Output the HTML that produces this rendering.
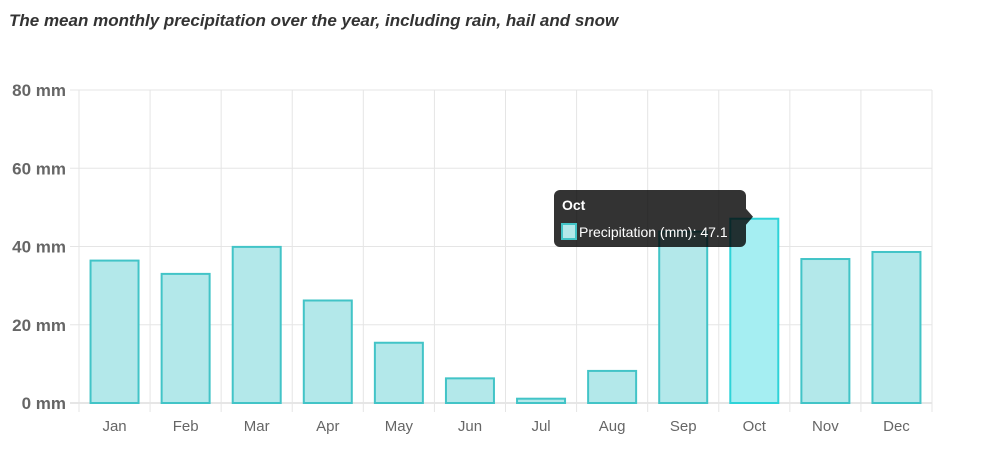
<!DOCTYPE html>
<html><head><meta charset="utf-8"><style>
body{margin:0;background:#fff;width:1007px;height:465px;overflow:hidden;font-family:"Liberation Sans",sans-serif}
#title{position:absolute;left:9px;top:11px;font-size:17px;font-weight:bold;font-style:italic;color:#333}
</style></head><body>
<div id="title">The mean monthly precipitation over the year, including rain, hail and snow</div>
<svg id="c" width="1007" height="465" style="position:absolute;left:0;top:0"></svg>
<script>
const categories=["Jan","Feb","Mar","Apr","May","Jun","Jul","Aug","Sep","Oct","Nov","Dec"];
const precipitation=[36.4,33.0,39.9,26.2,15.4,6.3,1.1,8.2,43.8,47.1,36.8,38.6];
const yTicks=[0,20,40,60,80];
const NS="http://www.w3.org/2000/svg";
const svg=document.getElementById('c');
const L=79,R=932,T=90,B=403,yMax=80;
const bw=(R-L)/categories.length;
const y=v=>B-(v/yMax)*(B-T);
const x=i=>L+i*bw;
function mk(t,a){const e=document.createElementNS(NS,t);for(const k in a)e.setAttribute(k,a[k]);svg.appendChild(e);return e;}
yTicks.forEach(t=>{
 const g=mk('line',{x1:70,x2:R,y1:y(t),y2:y(t),stroke:t===0?'#ccc':'#e5e5e5','stroke-width':1});
 
 
 const tx=mk('text',{x:66,y:y(t)+6,'text-anchor':'end','font-size':17,'font-weight':'bold',fill:'#666'});
 tx.textContent=t+' mm';
 
 
});
for(let i=0;i<=categories.length;i++){
 const g=mk('line',{x1:x(i),x2:x(i),y1:T,y2:B+9,stroke:'#e5e5e5','stroke-width':1});
 
 
}
categories.forEach((c,i)=>{
 const v=precipitation[i],cx=x(i)+bw/2,w=48;
 const hl=i===9;
 const r=mk('rect',{x:cx-w/2,y:y(v),width:w,height:B-y(v),fill:hl?'#a5eef2':'#b3e8ea',stroke:hl?'#2ed3d8':'#42c4c7','stroke-width':2});
 
 
 const t=mk('text',{x:cx,y:431,'text-anchor':'middle','font-size':15,fill:'#666'});
 t.textContent=c;
 
 
});
// tooltip for Oct
const ti=9,tipY=y(precipitation[ti]);
const tip=document.createElementNS(NS,'g');svg.appendChild(tip);


function tk(t,a){const e=document.createElementNS(NS,t);for(const k in a)e.setAttribute(k,a[k]);tip.appendChild(e);return e;}
tk('rect',{x:554,y:190,width:192,height:57,rx:6,fill:'rgba(0,0,0,0.8)'});
tk('path',{d:`M746 ${tipY-10} L753 ${tipY-2} L746 ${tipY+6}Z`,fill:'rgba(0,0,0,0.8)'});
const h=tk('text',{x:562,y:210,'font-size':14,'font-weight':'bold',fill:'#fff'});h.textContent=categories[ti];
tk('rect',{x:562,y:224,width:14,height:15,fill:'#b3e8ea',stroke:'#42c4c7','stroke-width':2});
const b=tk('text',{x:579,y:237,'font-size':14,fill:'#fff'});b.textContent='Precipitation (mm): '+precipitation[ti];
</script>
</body></html>
